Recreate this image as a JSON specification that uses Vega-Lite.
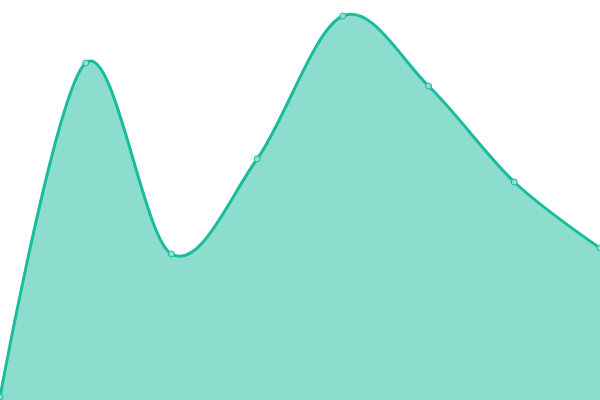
{
  "$schema": "https://vega.github.io/schema/vega-lite/v6.json",
  "width": 600,
  "height": 400,
  "autosize": {"type": "none"},
  "padding": 0,
  "background": "white",
  "config": {"view": {"stroke": null}},
  "data": {
    "values": [
      {"x": 0, "y": 3},
      {"x": 1, "y": 337},
      {"x": 2, "y": 146},
      {"x": 3, "y": 241},
      {"x": 4, "y": 384},
      {"x": 5, "y": 314},
      {"x": 6, "y": 218},
      {"x": 7, "y": 152}
    ]
  },
  "encoding": {
    "x": {"field": "x", "type": "quantitative", "axis": null, "scale": {"domain": [0, 7], "nice": false, "zero": false}},
    "y": {"field": "y", "type": "quantitative", "axis": null, "scale": {"domain": [0, 400], "nice": false}}
  },
  "layer": [
    {
      "mark": {"type": "area", "interpolate": "cardinal", "color": "#1abc9c", "opacity": 0.5}
    },
    {
      "mark": {"type": "line", "interpolate": "cardinal", "color": "#1abc9c", "strokeWidth": 3}
    },
    {
      "mark": {"type": "point", "filled": true, "fill": "#8ce0d0", "stroke": "#1abc9c", "strokeWidth": 1, "size": 36, "opacity": 1}
    }
  ]
}
